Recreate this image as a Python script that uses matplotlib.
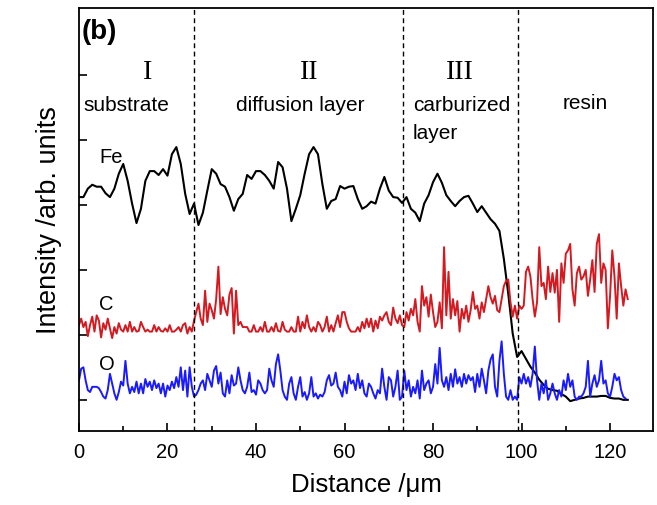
import numpy as np
import matplotlib
matplotlib.use('Agg')
import matplotlib.pyplot as plt

plt.rcParams['font.family'] = ['Liberation Sans', 'DejaVu Sans']

# Fe profile, one reading per micrometre (0..124 um)
fe_vals = [3.12, 3.12, 3.25, 3.31, 3.28, 3.28, 3.18, 3.12, 3.25, 3.48,
           3.63, 3.37, 3.02, 2.72, 2.94, 3.37, 3.52, 3.52, 3.46, 3.55,
           3.45, 3.78, 3.89, 3.63, 3.17, 2.86, 3.02, 2.69, 2.88, 3.22,
           3.55, 3.48, 3.32, 3.28, 3.12, 2.91, 3.09, 3.17, 3.46, 3.40,
           3.52, 3.52, 3.46, 3.37, 3.25, 3.66, 3.58, 3.25, 2.75, 2.94,
           3.15, 3.48, 3.78, 3.89, 3.78, 3.32, 2.94, 3.06, 3.09, 3.29,
           3.25, 3.28, 3.29, 3.09, 2.94, 2.98, 3.05, 3.02, 3.25, 3.43,
           3.22, 3.12, 3.11, 3.03, 3.12, 2.94, 2.88, 2.75, 3.02, 3.15,
           3.35, 3.48, 3.34, 3.15, 3.06, 2.98, 3.06, 3.12, 3.14, 3.02,
           2.89, 2.98, 2.88, 2.78, 2.71, 2.60, 2.17, 1.63, 1.02, 0.66,
           0.75, 0.63, 0.51, 0.42, 0.31, 0.23, 0.17, 0.15, 0.14, 0.09,
           0.05, -0.02, 0.00, 0.02, 0.03, 0.05, 0.05, 0.05, 0.06, 0.06,
           0.03, 0.02, 0.02, 0.00, 0.00]

# C and O profiles, one reading per 0.5 um (0..124 um)
c_vals = [1.15, 1.25, 1.12, 1.20, 0.98, 1.15, 1.28, 1.05, 1.30, 1.22,
          0.96, 1.18, 1.08, 1.25, 1.10, 0.95, 1.12, 1.02, 1.18, 1.08,
          1.05, 1.15, 1.05, 1.20, 1.05, 1.12, 1.05, 1.06, 1.20, 1.12,
          1.05, 1.08, 1.05, 1.05, 1.15, 1.05, 1.12, 1.06, 1.05, 1.10,
          1.05, 1.15, 1.05, 1.05, 1.08, 1.12, 1.05, 1.15, 1.18, 1.02,
          1.12,
          1.05, 1.22, 1.35, 1.48, 1.25, 1.15, 1.68, 1.20, 1.48, 1.38,
          1.25, 1.55, 2.05, 1.32, 1.58, 1.40, 1.30, 1.62, 1.72, 1.02,
          1.68, 1.15, 1.20, 1.12,
          1.12, 1.12, 1.05, 1.05, 1.15, 1.05, 1.05, 1.12, 1.05, 1.20,
          1.05, 1.05, 1.12, 1.05, 1.18, 1.06, 1.05, 1.20, 1.08, 1.05,
          1.05, 1.12, 1.05, 1.05, 1.28, 1.05, 1.20, 1.10, 1.30, 1.12,
          1.05, 1.12, 1.05, 1.20, 1.15, 1.05, 1.12, 1.28, 1.05, 1.15,
          1.05, 1.18, 1.30, 1.12, 1.35, 1.35, 1.20, 1.10, 1.05, 1.05,
          1.05, 1.12, 1.05, 1.20, 1.10, 1.25, 1.12, 1.25, 1.05, 1.22,
          1.10, 1.28, 1.22, 1.30, 1.35, 1.20, 1.15, 1.42, 1.25, 1.18,
          1.30, 1.15,
          1.12, 1.35, 1.22, 1.40, 1.30, 1.55, 1.20, 1.05, 1.75, 1.45,
          1.58, 1.28, 1.62, 1.35, 1.12, 1.20, 1.50, 1.10, 2.35, 1.30,
          1.97, 1.25, 1.55, 1.30, 1.52, 1.05, 1.40, 1.25, 1.45, 1.20,
          1.38, 1.66, 1.40, 1.45, 1.25, 1.50, 1.35, 1.55, 1.75, 1.58,
          1.48, 1.60, 1.38, 1.35,
          1.55, 1.75, 1.83, 1.85, 1.50, 1.28, 1.45, 1.25, 1.45, 1.40,
          1.45, 1.97, 2.05, 1.90, 1.55, 1.28, 1.50, 2.35, 1.75, 1.80,
          1.55, 2.05, 1.66, 1.95, 1.65, 2.00, 1.20, 2.10, 1.80, 2.25,
          2.30, 2.40, 1.70, 1.45, 1.95, 2.05, 1.85, 1.90, 2.00, 1.60,
          1.85, 2.15, 1.66, 2.40, 2.55, 1.80, 2.10, 2.00, 1.10, 1.60,
          2.30, 1.90, 1.25, 2.10, 1.75, 1.45, 1.70, 1.55]

o_vals = [0.30, 0.48, 0.50, 0.30, 0.15, 0.12, 0.20, 0.20, 0.20, 0.18,
          0.12, 0.05, 0.02, 0.15, 0.40, 0.25, 0.10, 0.00, 0.12, 0.28,
          0.22, 0.60, 0.25, 0.10, 0.20, 0.12, 0.28, 0.10, 0.25, 0.10,
          0.32, 0.20, 0.28, 0.15, 0.30, 0.18, 0.25, 0.10, 0.25, 0.05,
          0.22, 0.15, 0.28, 0.18, 0.35, 0.20, 0.50, 0.15, 0.45, 0.05,
          0.50,
          0.20, 0.05, 0.08, 0.15, 0.25, 0.30, 0.15, 0.40, 0.30, 0.20,
          0.45, 0.52, 0.25, 0.42, 0.10, 0.05, 0.30, 0.10, 0.38, 0.22,
          0.25, 0.50, 0.30, 0.15, 0.10, 0.20, 0.42, 0.12, 0.15, 0.08,
          0.30, 0.25, 0.15, 0.10, 0.15, 0.48, 0.30, 0.20, 0.55, 0.70,
          0.45, 0.15, 0.05, 0.00, 0.25, 0.35, 0.10, 0.00, 0.20,
          0.35, 0.05, 0.12, 0.00, 0.10, 0.35, 0.05, 0.10, 0.02, 0.08,
          0.05, 0.12, 0.30, 0.38, 0.22, 0.25, 0.42, 0.20, 0.15, 0.05,
          0.28, 0.10, 0.38, 0.25, 0.30, 0.15, 0.40, 0.18, 0.30, 0.10,
          0.05, 0.25, 0.20, 0.10, 0.02, 0.15, 0.10, 0.48, 0.20, 0.00,
          0.35, 0.30, 0.05, 0.20, 0.45, 0.00,
          0.05, 0.45, 0.15, 0.30, 0.05, 0.20, 0.10, 0.30, 0.02, 0.45,
          0.15, 0.25, 0.30, 0.10, 0.20, 0.55, 0.25, 0.80, 0.30, 0.20,
          0.35, 0.15, 0.40, 0.20, 0.47, 0.25, 0.35, 0.20, 0.40, 0.25,
          0.38, 0.30, 0.35, 0.12, 0.40, 0.20, 0.48, 0.30, 0.10, 0.45,
          0.62, 0.70, 0.20, 0.05,
          0.60, 0.90, 0.40, 0.05, 0.00, 0.15, 0.00, 0.05, 0.00, 0.35,
          0.25, 0.40, 0.25, 0.35, 0.20, 0.40, 0.82, 0.30, 0.00, 0.25,
          0.10, 0.30, 0.00, 0.10, 0.25, 0.10, 0.00, 0.15, 0.05, 0.30,
          0.15, 0.40, 0.20, 0.30, 0.05, 0.00, 0.05, 0.05, 0.10, 0.20,
          0.60, 0.05, 0.25, 0.38, 0.20, 0.30, 0.60, 0.25, 0.30, 0.10,
          0.05, 0.20, 0.40, 0.30, 0.35, 0.15, 0.05, 0.02]

fe_x = np.arange(len(fe_vals)) * 1.0
co_x = np.arange(len(c_vals)) * 0.5

boundaries = [25.9, 73.3, 99.3]
roman = ['I', 'II', 'III']
roman_x = [15.5, 52, 86]

fig = plt.figure(figsize=(6.57, 5.06), dpi=100)
ax = fig.add_axes([0.1202, 0.1462, 0.8737, 0.836])

ax.plot(fe_x, fe_vals, color='black', lw=1.5)
ax.plot(co_x, c_vals, color='#d41920', lw=1.4)
ax.plot(co_x[:len(o_vals)], o_vals, color='#1a1aff', lw=1.4)

for b in boundaries:
    ax.axvline(b, color='black', lw=1.0, ls=(0, (3.5, 2.5)))

ax.set_xlim(0, 129.7)
ax.set_ylim(-0.48, 6.03)
ax.set_xticks([0, 20, 40, 60, 80, 100, 120])
ax.set_xticks(np.arange(10, 130, 20), minor=True)
ax.set_yticks([0, 1, 2, 3, 4, 5])
ax.set_yticklabels([])
ax.tick_params(axis='x', which='major', direction='in', length=6, width=1.2,
               labelsize=14.5, pad=8)
ax.tick_params(axis='x', which='minor', direction='in', length=3.5, width=1.2)
ax.tick_params(axis='y', which='major', direction='in', length=6, width=1.2)
ax.tick_params(top=False, right=False)
for sp in ax.spines.values():
    sp.set_linewidth(1.3)

ax.set_xlabel('Distance /μm', fontsize=18.5, labelpad=8)
ax.set_ylabel('Intensity /arb. units', fontsize=19.5, labelpad=9)

ax.text(0.6, 5.88, '(b)', fontsize=20, fontweight='bold', va='top', ha='left')
for rx, r in zip(roman_x, roman):
    ax.text(rx, 5.05, r, fontsize=20, ha='center', va='center',
            family='Liberation Serif')
ax.text(10.8, 4.55, 'substrate', fontsize=15, ha='center', va='center')
ax.text(50, 4.55, 'diffusion layer', fontsize=15, ha='center', va='center')
ax.text(75.5, 4.55, 'carburized', fontsize=15, ha='left', va='center')
ax.text(75.5, 4.12, 'layer', fontsize=15, ha='left', va='center')
ax.text(114.3, 4.57, 'resin', fontsize=15, ha='center', va='center')

ax.text(7.2, 3.75, 'Fe', fontsize=14.5, ha='center', va='center')
ax.text(6.1, 1.49, 'C', fontsize=14.5, ha='center', va='center')
ax.text(6.3, 0.56, 'O', fontsize=14.5, ha='center', va='center')

fig.savefig('out.png', dpi=100)
